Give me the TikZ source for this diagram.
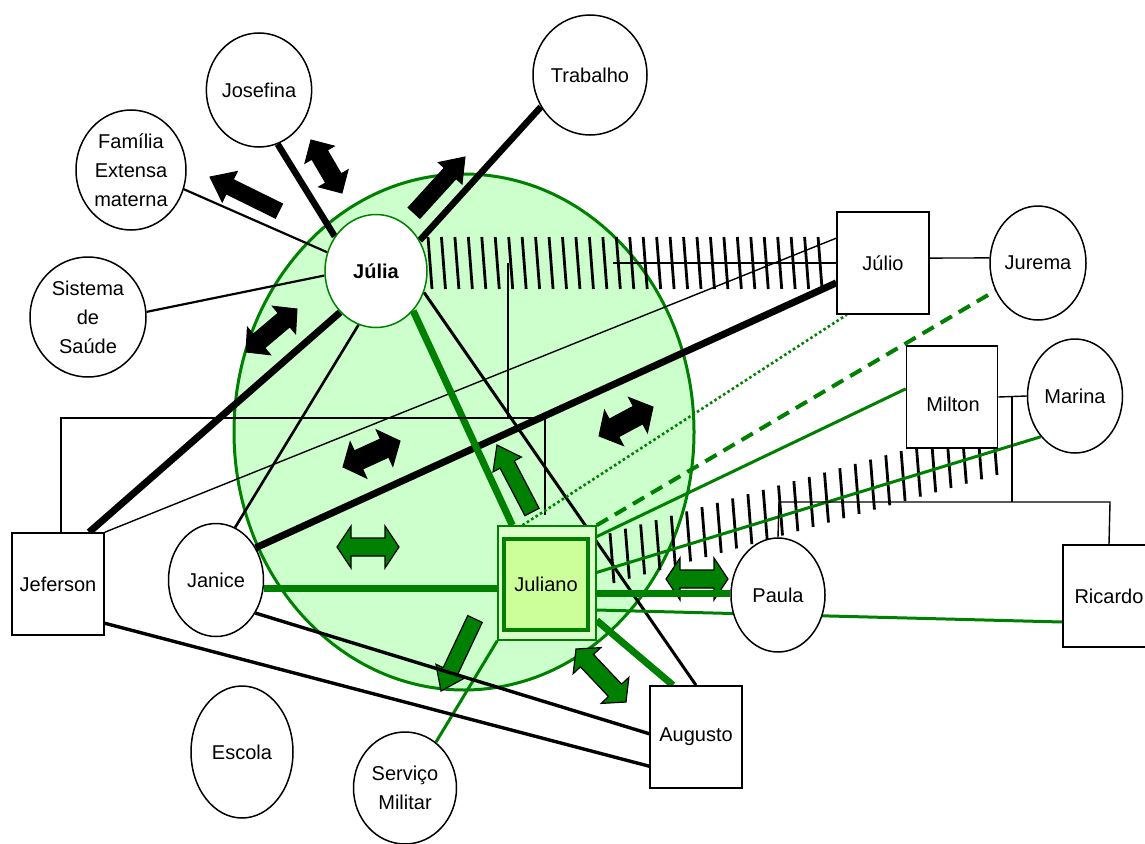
\documentclass[tikz,border=0pt]{standalone}
\usepackage{fontspec}
\setmainfont{Liberation Sans}
\usetikzlibrary{calc,shapes.geometric}
\definecolor{gline}{RGB}{0,128,0}
\definecolor{bigfill}{RGB}{204,255,204}
\definecolor{jinner}{RGB}{204,255,153}
\definecolor{jouter}{RGB}{221,255,204}
\pgfdeclarelayer{bg}\pgfdeclarelayer{mid}\pgfsetlayers{bg,mid,main}
% style, A, B, shaft half, head half, head length
\newcommand\dblarr[6]{%
  \filldraw[#1] (#2)
   -- ($(#2)!#6!(#3)!#5!90:(#3)$)
   -- ($(#2)!#6!(#3)!#4!90:(#3)$)
   -- ($(#3)!#6!(#2)!#4!-90:(#2)$)
   -- ($(#3)!#6!(#2)!#5!-90:(#2)$)
   -- (#3)
   -- ($(#3)!#6!(#2)!#5!90:(#2)$)
   -- ($(#3)!#6!(#2)!#4!90:(#2)$)
   -- ($(#2)!#6!(#3)!#4!-90:(#3)$)
   -- ($(#2)!#6!(#3)!#5!-90:(#3)$)
   -- cycle;}
% style, tail, tip, shaft half, head half, head length
\newcommand\sglarr[6]{%
  \filldraw[#1] ($(#2)!#4!90:(#3)$)
   -- ($(#3)!#6!(#2)!#4!-90:(#2)$)
   -- ($(#3)!#6!(#2)!#5!-90:(#2)$)
   -- (#3)
   -- ($(#3)!#6!(#2)!#5!90:(#2)$)
   -- ($(#3)!#6!(#2)!#4!90:(#2)$)
   -- ($(#2)!#4!-90:(#3)$)
   -- cycle;}
\tikzset{
  lbl/.style={font=\fontsize{20}{29}\selectfont, align=center, inner sep=0pt},
  pel/.style={lbl, ellipse, draw=black, line width=1.5, fill=white},
  pbox/.style={lbl, rectangle, draw=black, line width=1.5, fill=white, minimum width=92, minimum height=102},
  thinl/.style={black, line width=1.4},
  medl/.style={black, line width=2.2},
  medll/.style={black, line width=3},
  thickl/.style={black, line width=6.5},
  gthick/.style={gline, line width=7},
  gmed/.style={gline, line width=3},
  gdot/.style={gline, line width=2.6, dash pattern=on 2.6pt off 2.6pt},
  gdash/.style={gline, line width=4, dash pattern=on 13pt off 8pt},
  tickl/.style={black, line width=2.8},
  blackarr/.style={fill=black, draw=black, line width=1},
  greenarr/.style={fill=gline, draw=black, line width=1.2},
}
\begin{document}
\begin{tikzpicture}[x=1pt, y=-1pt]
\useasboundingbox (0,0) rectangle (1145,843);
\begin{pgfonlayer}{bg}
\node[ellipse, draw=gline, line width=3, fill=bigfill, minimum width=460, minimum height=516, inner sep=0] (household) at (464,432) {};
\end{pgfonlayer}
% nodes
\node[pel, draw=gline, minimum width=102, minimum height=113, font=\fontsize{20}{29}\selectfont\bfseries] (julia) at (376,271) {Júlia};
\node[pel, minimum width=102, minimum height=114] (jose) at (259,90) {Josefina};
\node[pel, minimum width=110, minimum height=120] (fam) at (131,170) {Família\\Extensa\\materna};
\node[pel, minimum width=116, minimum height=120] (sis) at (88,317) {Sistema\\de\\Saúde};
\node[pel, minimum width=114, minimum height=120] (trab) at (590,75) {Trabalho};
\node[pbox] (julio) at (883,263) {Júlio};
\node[pel, minimum width=96, minimum height=114] (jurema) at (1038,263) {Jurema};
\node[pbox, minimum width=91] (milton) at (952,397) {};
\node[lbl] (miltontext) at (953,404) {Milton};
\node[pel, minimum width=95, minimum height=114] (marina) at (1075,396) {Marina};
\node[pbox] (jef) at (58,584) {Jeferson};
\node[pel, minimum width=95, minimum height=113] (janice) at (216,580) {Janice};
\node[pel, minimum width=102, minimum height=132] (escola) at (242,752) {Escola};
\node[pel, minimum width=103, minimum height=112] (serv) at (405,788) {Serviço\\Militar};
\node[pbox] (augusto) at (696,737) {Augusto};
\node[rectangle, draw=gline, line width=1.5, fill=jouter, minimum width=98, minimum height=114] (juliano) at (547,583) {};
\node[lbl, rectangle, draw=gline, line width=4, fill=jinner, minimum width=84, minimum height=91] (julianoin) at (546,584) {Juliano};
\node[pel, minimum width=94, minimum height=114] (paula) at (778,595) {Paula};
\node[pbox] (ricardo) at (1109,596) {Ricardo};
% coordinates for family lines and hatches
\coordinate (hA) at (613,263);
\coordinate (m1) at (508,263);
\coordinate (m2) at (508,418);
\coordinate (s1) at (61,418);
\coordinate (s2) at (545,418);
\coordinate (s3) at (545,515);
\coordinate (r1) at (1012,396);
\coordinate (r2) at (1012,502);
\coordinate (c1) at (779,502);
\coordinate (c2) at (1110,502);
\begin{pgfonlayer}{mid}
% hatch Julia - Julio
\foreach \i in {0,...,29}{
  \pgfmathsetmacro\xx{430+\i*13.45}
  \draw[tickl] (\xx-2,237) -- (\xx+2,289);
}
\draw[thinl, line width=2] (hA) -- (julio.west);
% hatch Juliano - Milton
\foreach \i in {0,...,25}{
  \pgfmathsetmacro\xx{612+\i*15.32}
  \pgfmathsetmacro\yy{560-0.282*(\xx-605)}
  \draw[tickl] (\xx-2,\yy-25) -- (\xx+2,\yy+25);
}
% arrows
\dblarr{blackarr}{311,140}{342,193}{9pt}{17pt}{17pt}
\sglarr{blackarr}{279,211}{210,177}{8pt}{17pt}{22pt}
\sglarr{blackarr}{414,213}{465,157}{8pt}{16pt}{22pt}
\dblarr{blackarr}{246,352}{297,309}{9pt}{18pt}{17pt}
\dblarr{blackarr}{343,467}{400,441}{10pt}{20pt}{17pt}
\dblarr{blackarr}{599,436}{653,407}{10pt}{20pt}{17pt}
\dblarr{greenarr}{337,547}{399,547}{9pt}{21pt}{14pt}
\sglarr{greenarr}{532,512}{497,445}{8pt}{16pt}{22pt}
\sglarr{greenarr}{475,619}{441,691}{8pt}{16pt}{22pt}
\dblarr{greenarr}{576,649}{626,702}{9pt}{19pt}{16pt}
\dblarr{greenarr}{666,579}{728,579}{9pt}{21pt}{14pt}
% connectors
\draw[thickl] (jose.-71) -- (julia.140);
\draw[medl] (fam.-20) -- (julia.159);
\draw[medl] (sis.5) -- (julia.185);
\draw[thickl] (trab.213) -- (julia.35);
\draw[thinl] (jef.north east) -- (julio.152);
\draw[thickl, line width=7] (jef.59.5) -- (julia.229);
\draw[thickl, line width=7] (janice.39) -- (julio.203.5);
\draw[medl, line width=2.6] (janice.70) -- (julia.252);
\draw[gthick] (julia.313) -- (juliano.121);
\draw[medll] (julia.336) -- (augusto.north);
\draw[thinl] (m1) -- (m2);
\draw[thinl] (jef.north -| s1) -- (s1) -- (s2) -- (s3);
\draw[gdot] (juliano.113) -- (julio.235);
\draw[gdash] (juliano.north east) -- (jurema.213);
\draw[gmed] (juliano.43) -- (milton.170);
\draw[gmed] (juliano.12.6) -- (marina.230);
\draw[gthick] ($(janice.east)+(0,8)$) -- ($(juliano.west)+(0,5)$);
\draw[gthick] ($(juliano.east)+(0,10)$) -- ($(paula.west)+(0,-2)$);
\draw[gmed] ($(juliano.east)+(0,27)$) -- ($(ricardo.west)+(0,26)$);
\draw[gthick] (juliano.-37) -- (augusto.114);
\draw[gmed] (juliano.south west) -- (serv.56);
\draw[medll, line width=3.4] (janice.-40) -- (augusto.176);
\draw[medll, line width=3.4] (jef.-40) -- (augusto.212);
\draw[thinl] (julio.6) -- (jurema.174);
\draw[thinl] (milton.east) -- (marina.west);
\draw[thinl] (r1) -- (r2);
\draw[thinl] (paula.north) -- (c1) -- (c2) -- (ricardo.north);
\end{pgfonlayer}
\end{tikzpicture}
\end{document}
